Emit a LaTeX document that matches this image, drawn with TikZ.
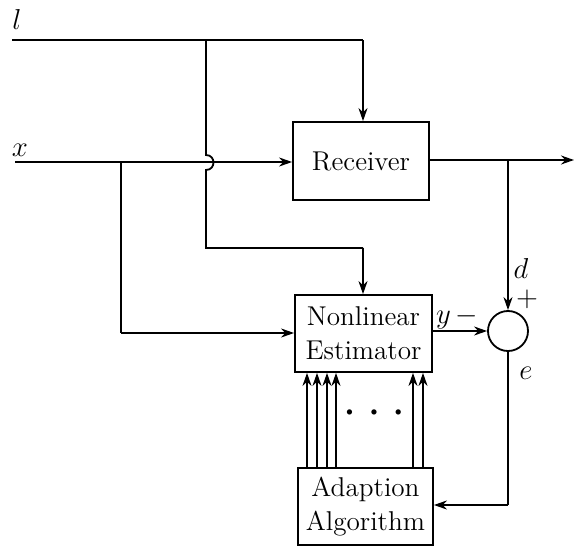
\documentclass[tikz,border=0pt]{standalone}
\usepackage{amsmath}
\usetikzlibrary{arrows.meta, positioning, calc}

\tikzset{
    blk/.style={draw, rectangle, line width=0.9pt, inner sep=2pt, align=center},
    lbl/.style={font=\fontsize{15}{18}\selectfont, inner sep=0.5pt},
    sig/.style={line width=0.9pt},
    sigarr/.style={line width=0.9pt, -{Stealth[length=6.5pt, width=4.5pt]}},
}

\begin{document}
\begin{tikzpicture}[x=0.5pt, y=-0.5pt, every node/.style={font=\fontsize{13.6}{17}\selectfont}]
    \useasboundingbox (0,0) rectangle (574,546);
    % blocks
    \node[blk, minimum width=68pt, minimum height=39pt] (rcv) at (361,161) {Receiver};
    \node[blk, minimum width=68.5pt, minimum height=38.5pt] (est) at (363.5,333.5) {Nonlinear\\Estimator};
    \node[blk, minimum width=67.5pt, minimum height=38.5pt] (ada) at (365.5,506.5) {Adaption\\Algorithm};
    \node[draw, circle, line width=0.9pt, minimum size=20pt, inner sep=0pt] (sum) at (508,331) {};
    % inputs
    \coordinate (lin) at (12,40);
    \coordinate (xin) at (15,162);
    \coordinate (out) at (574,160);
    \node[lbl] (ll) at (17,19) {$l$};
    \node[lbl] (xl) at (20,150) {$x$};
    \draw[sig] (lin) -- (363,40) coordinate (ltop);
    \draw[sigarr] (ltop) -- (rcv.north -| ltop);
    \draw[sigarr] (xin) -- (xin -| rcv.west);
    \draw[sig] (206,40) -- (206,155) .. controls (216,155) and (216,170) .. (206,170) -- (206,248) -- (363,248) coordinate (etop);
    \draw[sigarr] (etop) -- (est.north -| etop);
    \draw[sig] (121,162) -- (121,333) coordinate (xlow);
    \draw[sigarr] (xlow) -- (est.west |- xlow);
    % output and error
    \draw[sigarr] (rcv.east |- out) -- (out);
    \draw[sigarr] (508,160) -- (sum.north);
    \draw[sigarr] (est.east |- sum) -- (sum.west);
    \draw[sig] (sum.south) -- (508,505) coordinate (ecorner);
    \draw[sigarr] (ecorner) -- (ada.east |- ecorner);
    \node[lbl] (dl) at (521,268) {$d$};
    \node[lbl] (pl) at (527,299) {$+$};
    \node[lbl] (yl) at (457,318) {$y\,-$};
    \node[lbl] (el) at (526,373) {$e$};
    % parameter lines
    \foreach \px in {307,317,327,336,413,423}
        \draw[sigarr] (ada.north -| \px,0) -- (est.south -| \px,0);
    \node (dots) at (374,413) {\fontsize{9}{10}\selectfont\textbullet\hspace{5pt}\textbullet\hspace{5pt}\textbullet};
\end{tikzpicture}
\end{document}
